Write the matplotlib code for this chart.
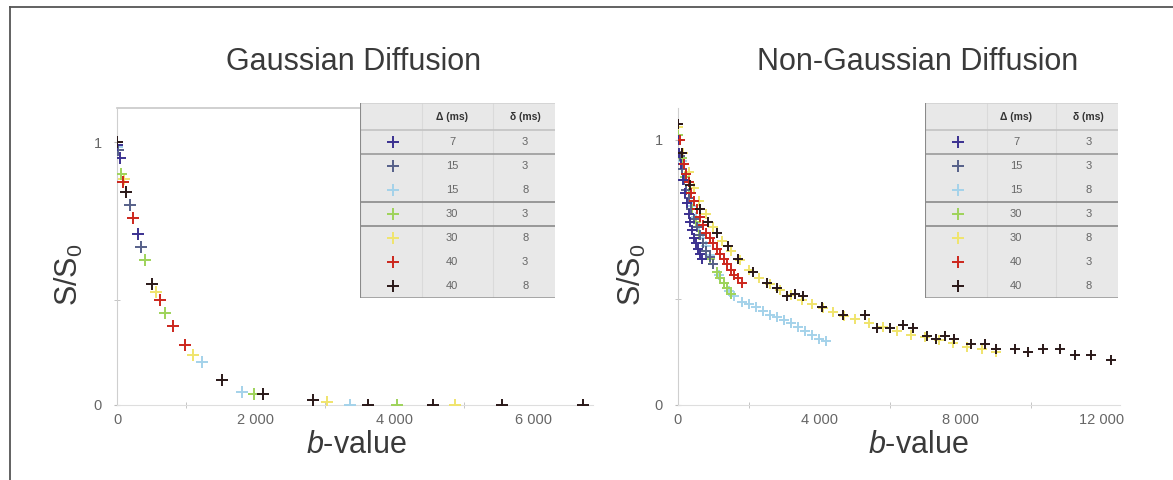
import matplotlib
matplotlib.use('Agg')
import matplotlib.pyplot as plt
from matplotlib.lines import Line2D
from matplotlib.patches import Rectangle

plt.rcParams['font.family'] = ['Liberation Sans', 'DejaVu Sans']
plt.rcParams['mathtext.fontset'] = 'custom'
plt.rcParams['mathtext.rm'] = 'Liberation Sans'
plt.rcParams['mathtext.it'] = 'Liberation Sans:italic'

# protocols (legend table)
delta_big = [7, 15, 15, 30, 30, 40, 40]
delta_small = [3, 3, 8, 3, 8, 3, 8]
colors = ['#3b3190', '#566089', '#a4d2ea', '#9ed35a', '#f0e46c', '#cc261c', '#2a1818']

# Gaussian diffusion panel, b-values and S/S0 per protocol
gauss_b = [
    [0, 40, 300],
    [20, 180, 350],
    [0, 1220, 1800, 3350],
    [60, 400, 690, 1970, 4030],
    [100, 560, 1100, 3020, 4860],
    [80, 230, 620, 810, 980],
    [0, 130, 500, 1510, 2100, 2820, 3610, 4550, 5540, 6700],
]
gauss_s = [
    [0.99, 0.94, 0.65],
    [0.97, 0.76, 0.60],
    [0.98, 0.165, 0.05, 0.0],
    [0.88, 0.55, 0.35, 0.04, 0.0],
    [0.86, 0.43, 0.19, 0.01, 0.0],
    [0.85, 0.71, 0.40, 0.30, 0.23],
    [1.0, 0.81, 0.46, 0.095, 0.04, 0.02, 0.0, 0.0, 0.0, 0.0],
]

# Non-Gaussian diffusion panel
nong_b = [
    [0, 40, 80, 140, 200, 250, 300, 350, 400, 450, 500, 560, 620, 680],
    [0, 60, 120, 180, 240, 300, 380, 460, 540, 620, 700, 800, 900, 1000],
    [0, 100, 200, 300, 400, 500, 600, 700, 800, 900, 1000, 1150, 1300, 1450, 1600,
     1800, 2000, 2200, 2400, 2600, 2800, 3000, 3200, 3400, 3600, 3800, 4000, 4200],
    [0, 100, 200, 300, 400, 500, 600, 700, 800, 900, 1000, 1100, 1200, 1300, 1400, 1500],
    [0, 150, 300, 450, 600, 800, 1000, 1250, 1500, 1750, 2000, 2300, 2600, 2900, 3200,
     3500, 3800, 4100, 4400, 4700, 5000, 5400, 5800, 6200, 6600, 7000, 7400, 7800,
     8200, 8600, 9000],
    [0, 60, 120, 180, 240, 300, 380, 460, 540, 620, 700, 800, 900, 1000, 1100, 1200,
     1300, 1400, 1500, 1600, 1700, 1800],
    [0, 120, 340, 620, 850, 1100, 1420, 1700, 2120, 2510, 2800, 3090, 3320, 3540, 4080,
     4670, 5300, 5640, 6000, 6370, 6650, 7050, 7300, 7570, 7820, 8300, 8700, 9000,
     9550, 9920, 10340, 10820, 11250, 11700, 12270],
]
nong_s = [
    [1.0, 0.95, 0.91, 0.85, 0.80, 0.76, 0.72, 0.69, 0.66, 0.63, 0.61, 0.59, 0.57, 0.55],
    [1.0, 0.94, 0.89, 0.85, 0.81, 0.78, 0.74, 0.70, 0.67, 0.64, 0.61, 0.58, 0.56, 0.53],
    [1.0, 0.92, 0.86, 0.80, 0.75, 0.71, 0.67, 0.63, 0.60, 0.565, 0.53, 0.49, 0.46, 0.43,
     0.41, 0.39, 0.38, 0.37, 0.355, 0.34, 0.33, 0.32, 0.31, 0.295, 0.28, 0.265, 0.25, 0.24],
    [1.02, 0.93, 0.86, 0.80, 0.74, 0.69, 0.64, 0.61, 0.58, 0.55, 0.53, 0.50, 0.48, 0.46,
     0.44, 0.42],
    [1.05, 0.95, 0.88, 0.82, 0.77, 0.72, 0.67, 0.62, 0.58, 0.545, 0.51, 0.48, 0.455, 0.435,
     0.415, 0.395, 0.38, 0.365, 0.35, 0.335, 0.325, 0.31, 0.295, 0.28, 0.265, 0.255,
     0.245, 0.235, 0.22, 0.21, 0.20],
    [1.06, 1.0, 0.95, 0.91, 0.87, 0.84, 0.80, 0.77, 0.74, 0.71, 0.68, 0.65, 0.63, 0.61,
     0.59, 0.57, 0.55, 0.53, 0.51, 0.49, 0.48, 0.46],
    [1.06, 0.95, 0.83, 0.74, 0.69, 0.65, 0.60, 0.55, 0.50, 0.46, 0.44, 0.41, 0.42, 0.41,
     0.37, 0.34, 0.34, 0.29, 0.29, 0.30, 0.29, 0.26, 0.25, 0.26, 0.25, 0.23, 0.23, 0.21,
     0.21, 0.20, 0.21, 0.21, 0.19, 0.19, 0.17],
]

draw_order = [4, 2, 3, 1, 0, 5, 6]

W, H = 1173, 480
fig = plt.figure(figsize=(W / 100, H / 100), dpi=100)

# frame
fig.add_artist(Line2D([10 / W, 10 / W], [0, 1 - 7 / H], color='#555555', lw=1.3))
fig.add_artist(Line2D([10 / W, 1], [1 - 7 / H, 1 - 7 / H], color='#555555', lw=1.3))


def setup(ax, xmax, ymax, major, minor, top_frac):
    ax.set_xlim(0, xmax)
    ax.set_ylim(0, ymax)
    for s in ['top', 'right']:
        ax.spines[s].set_visible(False)
    ax.spines['left'].set_color('#cfcfcf')
    ax.spines['bottom'].set_color('#dedede')
    ax.set_xticks(major)
    ax.set_xticklabels(['0' if v == 0 else '{:,}'.format(v).replace(',', ' ') for v in major])
    ax.set_xticks(minor, minor=True)
    ax.set_yticks([0, 1])
    ax.set_yticklabels(['0', '1'])
    ax.set_yticks([0.4], minor=True)
    ax.tick_params(which='both', direction='inout', length=5, color='#bbbbbb',
                   labelcolor='#666666', labelsize=10.5, pad=6)
    ax.tick_params(axis='y', which='both', length=4, pad=9)
    ax.tick_params(axis='x', which='major', length=0)
    ax.set_ylabel(r'S/S$_\mathregular{0}$', fontsize=22, color='#3a3a3a')
    ax.yaxis.set_label_coords(-0.068, 0.44)
    if top_frac:
        ax.plot([0, top_frac], [1, 1], transform=ax.transAxes, color='#c8c8c8',
                lw=1.2, clip_on=False)


def scatter_series(ax, bs, ss, ms):
    for z, i in enumerate(draw_order):
        ax.plot(bs[i], ss[i], linestyle='none', marker='+', ms=ms, mew=1.4,
                color=colors[i], zorder=3 + z)


def draw_table(rect):
    tab = fig.add_axes(rect)
    tab.set_xlim(0, 1)
    tab.set_ylim(195, 0)
    tab.axis('off')
    tab.add_patch(Rectangle((0, 0), 1, 195, facecolor='#e8e8e8', edgecolor='none'))
    for xv in [0.32, 0.68]:
        tab.plot([xv, xv], [0, 195], color='#dadada', lw=0.8)
    hl = [(0, '#d2d2d2'), (27, '#c2c2c2'), (51, '#9a9a9a'), (99, '#8a8a8a'),
          (123, '#8a8a8a'), (195, '#9a9a9a')]
    for yv, c in hl:
        tab.plot([0, 1], [yv, yv], color=c, lw=1.2)
    tab.plot([0, 0], [0, 195], color='#8a8a8a', lw=1.5)
    tab.text(0.472, 13.5, '\u0394 (ms)', ha='center', va='center', fontsize=7.5,
             fontweight='bold', color='#333333')
    tab.text(0.847, 13.5, '\u03b4 (ms)', ha='center', va='center', fontsize=7.5,
             fontweight='bold', color='#333333')
    for i in range(len(delta_big)):
        yc = 27 + 24 * i + 12
        tab.plot(0.17, yc, marker='+', ms=8, mew=1.4, color=colors[i])
        tab.text(0.472, yc, str(delta_big[i]), ha='center', va='center', fontsize=8,
                 color='#666666')
        tab.text(0.847, yc, str(delta_small[i]), ha='center', va='center', fontsize=8,
                 color='#666666')


axL = fig.add_axes([117 / W, 75 / H, 476 / W, 297 / H])
setup(axL, 6850, 1.13, [0, 2000, 4000, 6000], [1000, 3000, 5000], (360 - 117) / 476)
scatter_series(axL, gauss_b, gauss_s, 9)

axR = fig.add_axes([678 / W, 75 / H, 442 / W, 297 / H])
setup(axR, 12520, 1.12, [0, 4000, 8000, 12000], [2000, 6000, 10000], None)
scatter_series(axR, nong_b, nong_s, 7)

draw_table([360 / W, 1 - 298 / H, 195 / W, 195 / H])
draw_table([925 / W, 1 - 298 / H, 193 / W, 195 / H])

fig.text(354 / W, 1 - 62 / H, 'Gaussian Diffusion', ha='center', va='center',
         fontsize=22, color='#3a3a3a')
fig.text(918 / W, 1 - 62 / H, 'Non-Gaussian Diffusion', ha='center', va='center',
         fontsize=22, color='#3a3a3a')
fig.text(356 / W, 1 - 445 / H, r'$b$-value', ha='center', va='center',
         fontsize=22, color='#3a3a3a')
fig.text(918 / W, 1 - 445 / H, r'$b$-value', ha='center', va='center',
         fontsize=22, color='#3a3a3a')

fig.savefig('out.png', dpi=100)
plt.close(fig)
